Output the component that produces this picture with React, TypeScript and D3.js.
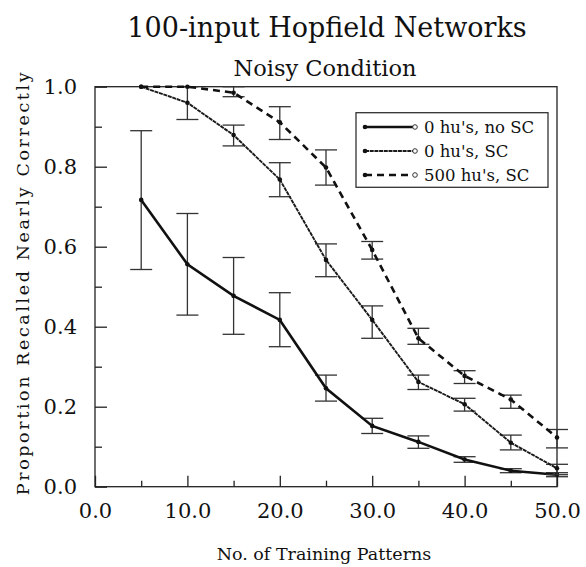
import React, { useEffect, useRef } from 'react';
import * as d3 from 'd3';

// training pattern counts
const patterns = [5, 10, 15, 20, 25, 30, 35, 40, 45, 50];

// 0 hu's, no SC
const noScMean = [0.717, 0.556, 0.477, 0.417, 0.246, 0.152, 0.112, 0.068, 0.04, 0.03];
const noScLow = [0.543, 0.429, 0.381, 0.35, 0.214, 0.133, 0.096, 0.061, 0.035, 0.025];
const noScHigh = [0.89, 0.683, 0.573, 0.485, 0.279, 0.171, 0.127, 0.075, 0.045, 0.035];

// 0 hu's, SC
const scMean = [1.0, 0.96, 0.879, 0.768, 0.567, 0.417, 0.262, 0.206, 0.11, 0.046];
const scLow = [1.0, 0.918, 0.852, 0.725, 0.525, 0.371, 0.243, 0.189, 0.092, 0.03];
const scHigh = [1.0, 1.0, 0.904, 0.81, 0.607, 0.452, 0.279, 0.221, 0.129, 0.056];

// 500 hu's, SC
const huMean = [1.0, 1.0, 0.985, 0.911, 0.798, 0.592, 0.371, 0.277, 0.218, 0.123];
const huLow = [1.0, 1.0, 0.975, 0.868, 0.754, 0.569, 0.356, 0.258, 0.196, 0.097];
const huHigh = [1.0, 1.0, 1.0, 0.95, 0.842, 0.613, 0.396, 0.29, 0.229, 0.143];

const xMajor = [0, 10, 20, 30, 40, 50];
const xMinor = [5, 15, 25, 35, 45];
const yMajor = [0, 0.2, 0.4, 0.6, 0.8, 1.0];
const yMinor = [0.1, 0.3, 0.5, 0.7, 0.9];

const legendLabels = ["0 hu's, no SC", "0 hu's, SC", "500 hu's, SC"];

const FONT = '"DejaVu Serif", serif';

const App = () => {
  const chartRef = useRef(null);

  useEffect(() => {
    const svg = d3.select(chartRef.current);
    svg.selectAll('*').remove();
    const width = 586;
    const height = 567;
    const margin = { top: 86.7, right: 29, bottom: 80.3, left: 95 };

    svg.attr('width', width).attr('height', height);

    const x = d3.scaleLinear().domain([0, 50]).range([margin.left, width - margin.right]);
    const y = d3.scaleLinear().domain([0, 1]).range([height - margin.bottom, margin.top]);

    const series = [
      { mean: noScMean, low: noScLow, high: noScHigh, width: 2.6, dash: null, color: '#111' },
      { mean: scMean, low: scLow, high: scHigh, width: 1.9, dash: '4 0.7', color: '#1a1a1a' },
      { mean: huMean, low: huLow, high: huHigh, width: 2.6, dash: '7 5', color: '#111' },
    ];

    // frame
    svg
      .append('rect')
      .attr('x', x(0))
      .attr('y', y(1))
      .attr('width', x(50) - x(0))
      .attr('height', y(0) - y(1))
      .attr('fill', 'none')
      .attr('stroke', '#222')
      .attr('stroke-width', 1.3);

    // axes, ticks pointing inward
    const styleAxis = g => {
      g.select('.domain').remove();
      g.selectAll('line').attr('stroke', '#222').attr('stroke-width', 1.3);
      g.selectAll('text').attr('font-family', FONT).attr('font-size', 21).attr('fill', '#111');
    };

    svg
      .append('g')
      .attr('transform', `translate(0,${y(0)})`)
      .call(d3.axisBottom(x).tickValues(xMajor).tickSize(-11).tickPadding(16).tickFormat(d3.format('.1f')))
      .call(styleAxis);
    svg
      .append('g')
      .attr('transform', `translate(0,${y(0)})`)
      .call(d3.axisBottom(x).tickValues(xMinor).tickSize(-6).tickFormat(() => ''))
      .call(styleAxis);
    svg
      .append('g')
      .attr('transform', `translate(${x(0)},0)`)
      .call(d3.axisLeft(y).tickValues(yMajor).tickSize(-12).tickPadding(18).tickFormat(d3.format('.1f')))
      .call(styleAxis);
    svg
      .append('g')
      .attr('transform', `translate(${x(0)},0)`)
      .call(d3.axisLeft(y).tickValues(yMinor).tickSize(-7).tickFormat(() => ''))
      .call(styleAxis);

    const line = d3
      .line()
      .x(d => x(d.p))
      .y(d => y(d.v));

    series.forEach(s => {
      const pts = patterns.map((p, i) => ({ p, v: s.mean[i], lo: s.low[i], hi: s.high[i] }));

      // error bars
      const eb = svg.append('g').attr('stroke', '#333').attr('stroke-width', 1.3);
      pts.forEach(d => {
        if (d.hi - d.lo < 0.001) return;
        eb.append('line').attr('x1', x(d.p)).attr('x2', x(d.p)).attr('y1', y(d.lo)).attr('y2', y(d.hi));
        eb.append('line').attr('x1', x(d.p) - 11).attr('x2', x(d.p) + 11).attr('y1', y(d.lo)).attr('y2', y(d.lo));
        eb.append('line').attr('x1', x(d.p) - 11).attr('x2', x(d.p) + 11).attr('y1', y(d.hi)).attr('y2', y(d.hi));
      });

      svg
        .append('path')
        .datum(pts)
        .attr('fill', 'none')
        .attr('stroke', s.color)
        .attr('stroke-width', s.width)
        .attr('stroke-dasharray', s.dash)
        .attr('d', line);

      svg
        .append('g')
        .selectAll('circle')
        .data(pts)
        .join('circle')
        .attr('cx', d => x(d.p))
        .attr('cy', d => y(d.v))
        .attr('r', 2.3)
        .attr('fill', '#111');
    });

    // legend
    const lg = svg.append('g');
    lg.append('rect')
      .attr('x', 356)
      .attr('y', 112.7)
      .attr('width', 192)
      .attr('height', 74.6)
      .attr('fill', 'white')
      .attr('stroke', '#333')
      .attr('stroke-width', 1.3);
    legendLabels.forEach((label, i) => {
      const s = series[i];
      const ly = 127 + i * 24;
      lg.append('line')
        .attr('x1', 365)
        .attr('x2', 413)
        .attr('y1', ly)
        .attr('y2', ly)
        .attr('stroke', s.color)
        .attr('stroke-width', s.width)
        .attr('stroke-dasharray', s.dash);
      lg.append('circle').attr('cx', 365).attr('cy', ly).attr('r', 2.3).attr('fill', '#111');
      lg.append('circle')
        .attr('cx', 415)
        .attr('cy', ly)
        .attr('r', 2.3)
        .attr('fill', 'white')
        .attr('stroke', '#333')
        .attr('stroke-width', 1);
      lg.append('text')
        .attr('x', 424)
        .attr('y', ly)
        .attr('dy', '0.36em')
        .attr('font-family', FONT)
        .attr('font-size', 16.5)
        .attr('fill', '#111')
        .text(label);
    });

    // titles
    svg
      .append('text')
      .attr('x', 327)
      .attr('y', 37)
      .attr('text-anchor', 'middle')
      .attr('font-family', FONT)
      .attr('font-size', 27)
      .attr('fill', '#111')
      .text('100-input Hopfield Networks');
    svg
      .append('text')
      .attr('x', 325)
      .attr('y', 76)
      .attr('text-anchor', 'middle')
      .attr('font-family', FONT)
      .attr('font-size', 22.5)
      .attr('fill', '#111')
      .text('Noisy Condition');

    svg
      .append('text')
      .attr('x', 324)
      .attr('y', 560)
      .attr('text-anchor', 'middle')
      .attr('font-family', FONT)
      .attr('font-size', 17.5)
      .attr('fill', '#111')
      .text('No. of Training Patterns');

    svg
      .append('text')
      .attr('transform', 'translate(29,282.5) rotate(-90)')
      .attr('text-anchor', 'middle')
      .attr('font-family', FONT)
      .attr('font-size', 17.5)
      .attr('letter-spacing', 2.6)
      .attr('fill', '#111')
      .text('Proportion Recalled Nearly Correctly');
  }, []);

  return (
    <svg
      ref={chartRef}
      style={{ position: 'absolute', left: 0, top: 0, display: 'block', background: 'white' }}
    ></svg>
  );
};

export default App;
